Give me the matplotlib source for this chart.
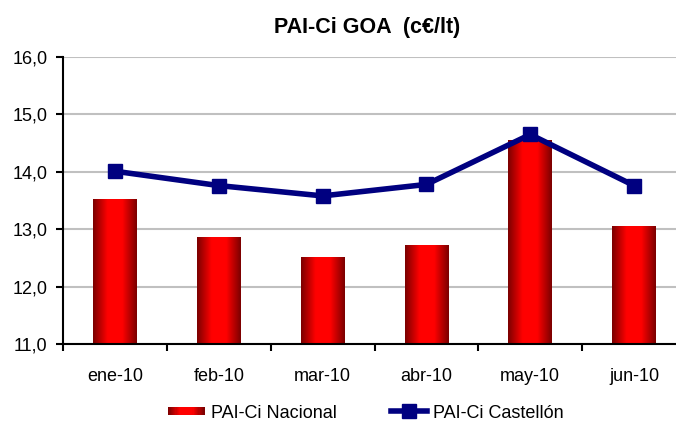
import numpy as np
import matplotlib
matplotlib.use("Agg")
import matplotlib.pyplot as plt
from matplotlib.patches import Rectangle
from matplotlib.lines import Line2D
from matplotlib.legend_handler import HandlerBase
from matplotlib.colors import LinearSegmentedColormap
from matplotlib.ticker import FixedLocator, FuncFormatter

categories = ["ene-10", "feb-10", "mar-10", "abr-10", "may-10", "jun-10"]
nacional = [13.52, 12.85, 12.50, 12.72, 14.55, 13.05]
castellon = [14.01, 13.76, 13.58, 13.78, 14.65, 13.76]
yticks = [11, 12, 13, 14, 15, 16]

plt.rcParams['font.family'] = ['Liberation Sans', 'DejaVu Sans']

fig = plt.figure(figsize=(6.76, 4.25), dpi=100)
ax = fig.add_axes([63/676, 81/425, 623/676, 287/425])

x = np.arange(len(categories))
width = 0.42
cmap = LinearSegmentedColormap.from_list("g", ["#7a0000", "#ff0000", "#ff0000", "#7a0000"])
grad = np.linspace(0, 1, 256).reshape(1, -1)

bars = ax.bar(x, np.array(nacional) - 11, width, bottom=11, color="none", zorder=2)
for b in bars:
    x0, y0 = b.get_x(), b.get_y()
    w, h = b.get_width(), b.get_height()
    ax.imshow(grad, cmap=cmap, extent=(x0, x0 + w, y0, y0 + h), aspect="auto", zorder=2,
              interpolation="bilinear")

ax.plot(x, castellon, color="#000080", lw=4, marker="s", markersize=10.5, zorder=3,
        solid_joinstyle="miter")

ax.set_xlim(-0.5, len(categories) - 0.5)
ax.set_ylim(11, 16)
ax.set_yticks(yticks)
ax.yaxis.set_major_formatter(FuncFormatter(lambda v, p: f"{v:.1f}".replace(".", ",")))
ax.set_xticks(x)
ax.set_xticklabels(categories)
ax.xaxis.set_minor_locator(FixedLocator(np.arange(-0.5, len(categories), 1.0)))
ax.tick_params(axis="x", which="major", length=0, pad=17, labelsize=13)
ax.tick_params(axis="x", which="minor", length=5, width=1.5, direction="out")
ax.tick_params(axis="y", length=5, width=1.5, direction="out", labelsize=13, pad=6)
ax.grid(axis="y", color="#c0c0c0", lw=1.5, zorder=0)
ax.set_axisbelow(True)
for s in ["top", "right"]:
    ax.spines[s].set_visible(False)
for s in ["left", "bottom"]:
    ax.spines[s].set_linewidth(1.5)
    ax.spines[s].set_zorder(4)

fig.text(367/676, 1 - 27/425, "PAI-Ci GOA  (c€/lt)", ha="center", va="center",
         fontsize=15.5, fontweight="bold")


class GradHandler(HandlerBase):
    def create_artists(self, legend, orig, xd, yd, w, h, fontsize, trans):
        arts = []
        n = 30
        for i in range(n):
            c = cmap((i + 0.5) / n)
            r = Rectangle((xd + w * i / n, yd + h * 0.2), w / n + 0.2, h * 0.6,
                          facecolor=c, edgecolor="none", transform=trans)
            arts.append(r)
        return arts


bar_handle = Rectangle((0, 0), 1, 1)
line_handle = Line2D([], [], color="#000080", lw=4, marker="s", markersize=10.5)
leg = fig.legend([bar_handle, line_handle], ["PAI-Ci Nacional", "PAI-Ci Castellón"],
                 handler_map={Rectangle: GradHandler()}, loc="center",
                 bbox_to_anchor=(366/676, 1 - 413/425), ncol=2, frameon=False,
                 fontsize=13, handlelength=2.0, handletextpad=0.35, columnspacing=3.0)

fig.savefig("out.png", dpi=100)
